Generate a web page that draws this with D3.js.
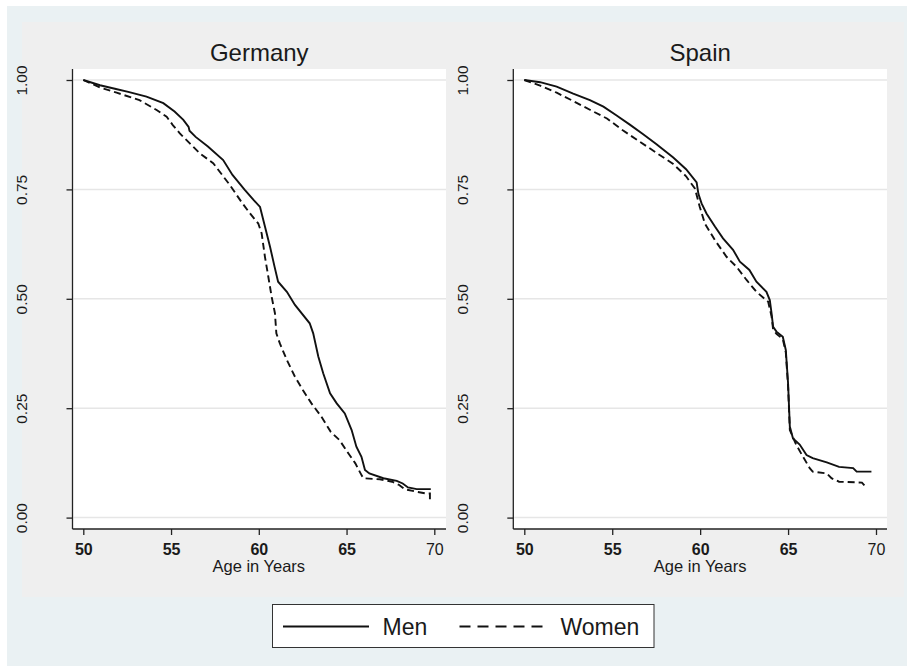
<!DOCTYPE html>
<html>
<head>
<meta charset="utf-8">
<script src="https://cdnjs.cloudflare.com/ajax/libs/d3/7.8.5/d3.min.js"></script>
<style>
  body { margin: 0; background: #fff; }
  svg text { font-family: "Liberation Sans", Arial, sans-serif; fill: #1a1a1a; }
</style>
</head>
<body>
<script>
// Kaplan-Meier style survival curves
const xTicks = [50, 55, 60, 65, 70];
const yTicks = [0, 0.25, 0.5, 0.75, 1];
const countries = ["Germany", "Spain"];
const groups = ["Men", "Women"];

const deMenAge  = [50, 50.95, 51.8, 52.56, 53.6, 54.56, 55.2, 55.7, 56.0, 56.05, 56.4, 57.1, 57.97, 58.5, 59.2, 59.7, 60.07, 60.35, 60.64, 60.9, 61.1, 61.6, 62.06, 62.9, 63.1, 63.39, 63.67, 64.06, 64.44, 64.9, 65.29, 65.56, 65.85, 66.05, 66.3, 67.1, 67.86, 68.2, 68.5, 69.0, 69.8];
const deMenSurv = [1, 0.988, 0.980, 0.973, 0.962, 0.947, 0.928, 0.909, 0.893, 0.884, 0.870, 0.848, 0.817, 0.783, 0.749, 0.726, 0.710, 0.665, 0.619, 0.573, 0.539, 0.516, 0.486, 0.444, 0.421, 0.368, 0.330, 0.284, 0.261, 0.238, 0.200, 0.162, 0.139, 0.109, 0.101, 0.090, 0.084, 0.078, 0.069, 0.065, 0.065];

const deWomenAge  = [50, 50.95, 51.9, 53.2, 54.2, 54.75, 55.1, 55.5, 56.07, 56.65, 57.4, 58.35, 59.0, 59.5, 59.97, 60.16, 60.35, 60.54, 60.73, 60.92, 61.0, 61.2, 61.6, 62.06, 62.5, 63.0, 63.56, 64.1, 64.6, 65.1, 65.5, 65.8, 65.95, 66.9, 67.6, 68.0, 68.3, 69.0, 69.55, 69.75, 69.75];
const deWomenSurv = [1, 0.983, 0.971, 0.954, 0.931, 0.916, 0.897, 0.878, 0.855, 0.832, 0.810, 0.760, 0.722, 0.695, 0.672, 0.650, 0.596, 0.551, 0.505, 0.467, 0.421, 0.398, 0.360, 0.322, 0.292, 0.261, 0.231, 0.196, 0.177, 0.147, 0.124, 0.101, 0.090, 0.0875, 0.082, 0.0745, 0.065, 0.059, 0.055, 0.055, 0.036];

const esMenAge  = [50, 50.9, 51.84, 52.78, 53.73, 54.5, 55.25, 56.0, 56.76, 57.5, 58.47, 59.2, 59.8, 59.9, 60.08, 60.36, 60.84, 61.3, 61.87, 62.26, 62.8, 63.2, 63.77, 63.96, 64.06, 64.15, 64.34, 64.7, 64.87, 65.0, 65.1, 65.28, 65.66, 66.05, 66.4, 67.2, 67.9, 68.7, 68.9, 69.74];
const esMenSurv = [1, 0.995, 0.985, 0.969, 0.954, 0.939, 0.919, 0.898, 0.876, 0.854, 0.823, 0.796, 0.766, 0.740, 0.718, 0.695, 0.665, 0.638, 0.612, 0.585, 0.566, 0.539, 0.516, 0.497, 0.467, 0.436, 0.425, 0.413, 0.383, 0.307, 0.208, 0.181, 0.167, 0.143, 0.136, 0.126, 0.116, 0.113, 0.105, 0.105];

const esWomenAge  = [50, 50.9, 51.84, 52.78, 53.73, 54.7, 55.6, 56.57, 57.5, 58.47, 59.2, 59.7, 59.98, 60.27, 60.84, 61.5, 62.07, 62.64, 63.2, 63.87, 64.06, 64.15, 64.34, 64.7, 64.87, 65.0, 65.1, 65.47, 65.85, 66.23, 66.4, 67.2, 67.47, 67.9, 69.2, 69.4];
const esWomenSurv = [1, 0.987, 0.971, 0.952, 0.932, 0.912, 0.885, 0.859, 0.834, 0.808, 0.780, 0.752, 0.710, 0.672, 0.634, 0.596, 0.573, 0.543, 0.516, 0.493, 0.460, 0.430, 0.420, 0.408, 0.378, 0.300, 0.200, 0.166, 0.139, 0.113, 0.105, 0.101, 0.090, 0.082, 0.080, 0.071];

const series = {
  Germany: { Men: [deMenAge, deMenSurv], Women: [deWomenAge, deWomenSurv] },
  Spain:   { Men: [esMenAge, esMenSurv], Women: [esWomenAge, esWomenSurv] }
};

const W = 907, H = 666;
const dash = { Men: null, Women: "7,4" };

const svg = d3.select("body").append("svg")
  .attr("width", W).attr("height", H);

// backgrounds
svg.append("rect").attr("x", 7).attr("y", 6).attr("width", W - 7).attr("height", H - 6).attr("fill", "#eaf1f3");
svg.append("rect").attr("x", 22).attr("y", 22).attr("width", 882).attr("height", 575).attr("fill", "#efefef");

// panel layout: plot region left/right, x range for 50..70
const panels = [
  { name: "Germany", left: 72.5, right: 446, x0: 83.3, x1: 434.3 },
  { name: "Spain",   left: 513.3, right: 887, x0: 524.3, x1: 876 }
];
const plotTop = 69, plotBottom = 529;
const y = d3.scaleLinear().domain([0, 1]).range([517.6, 80]);

panels.forEach(p => {
  const x = d3.scaleLinear().domain([50, 70]).range([p.x0, p.x1]);
  const g = svg.append("g");

  g.append("rect").attr("x", p.left).attr("y", plotTop)
    .attr("width", p.right - p.left).attr("height", plotBottom - plotTop).attr("fill", "#fff");

  // grid
  g.selectAll(".grid").data(yTicks).enter().append("line")
    .attr("x1", p.left + 1).attr("x2", p.right)
    .attr("y1", d => y(d)).attr("y2", d => y(d))
    .attr("stroke", "#e6e6e6").attr("stroke-width", 1.5);

  // y axis
  const ya = g.append("g").attr("transform", "translate(" + p.left + ",0)")
    .call(d3.axisLeft(y).tickValues(yTicks).tickSize(6).tickFormat(d3.format(".2f")));
  ya.select(".domain").remove();
  ya.selectAll(".tick line").attr("stroke", "#222").attr("stroke-width", 1.3);
  ya.selectAll(".tick text")
    .attr("transform", "rotate(-90)")
    .attr("x", 0).attr("y", -45.5).attr("dy", 0)
    .attr("text-anchor", "middle")
    .style("font-size", "15.5px");

  // x axis
  const xa = g.append("g").attr("transform", "translate(0," + plotBottom + ")")
    .call(d3.axisBottom(x).tickValues(xTicks).tickSize(6));
  xa.select(".domain").remove();
  xa.selectAll(".tick line").attr("stroke", "#222").attr("stroke-width", 1.3);
  xa.selectAll(".tick text")
    .attr("y", 26).attr("dy", 0)
    .style("font-size", "16px")
    .style("font-weight", d => d < 70 ? "bold" : "normal");

  // axis lines
  g.append("line").attr("x1", p.left).attr("x2", p.left).attr("y1", plotTop).attr("y2", plotBottom)
    .attr("stroke", "#222").attr("stroke-width", 1.3);
  g.append("line").attr("x1", p.left).attr("x2", p.right).attr("y1", plotBottom).attr("y2", plotBottom)
    .attr("stroke", "#222").attr("stroke-width", 1.3);

  g.append("text").attr("x", x(60)).attr("y", 572).attr("text-anchor", "middle")
    .style("font-size", "16.5px").text("Age in Years");

  g.append("text").attr("x", (p.left + p.right) / 2).attr("y", 61).attr("text-anchor", "middle")
    .style("font-size", "24px").text(p.name);

  // curves
  const line = d3.line().x(d => x(d[0])).y(d => y(d[1]));
  groups.forEach(k => {
    const [ages, surv] = series[p.name][k];
    g.append("path")
      .datum(ages.map((a, i) => [a, surv[i]]))
      .attr("d", line)
      .attr("fill", "none")
      .attr("stroke", "#111")
      .attr("stroke-width", 1.9)
      .attr("stroke-dasharray", dash[k]);
  });
});

// legend
const lg = svg.append("g");
lg.append("rect").attr("x", 272.5).attr("y", 604.5).attr("width", 381.5).attr("height", 43)
  .attr("fill", "#fff").attr("stroke", "#333").attr("stroke-width", 1);
const legendItems = [
  { key: "Men", lx: 283, tx: 382.5 },
  { key: "Women", lx: 459.5, tx: 560.5 }
];
legendItems.forEach(it => {
  lg.append("line").attr("x1", it.lx).attr("x2", it.lx + 86).attr("y1", 626.5).attr("y2", 626.5)
    .attr("stroke", "#111").attr("stroke-width", 2)
    .attr("stroke-dasharray", it.key === "Women" ? "11,7" : null);
  lg.append("text").attr("x", it.tx).attr("y", 635).style("font-size", "23px").text(it.key);
});
</script>
</body>
</html>
